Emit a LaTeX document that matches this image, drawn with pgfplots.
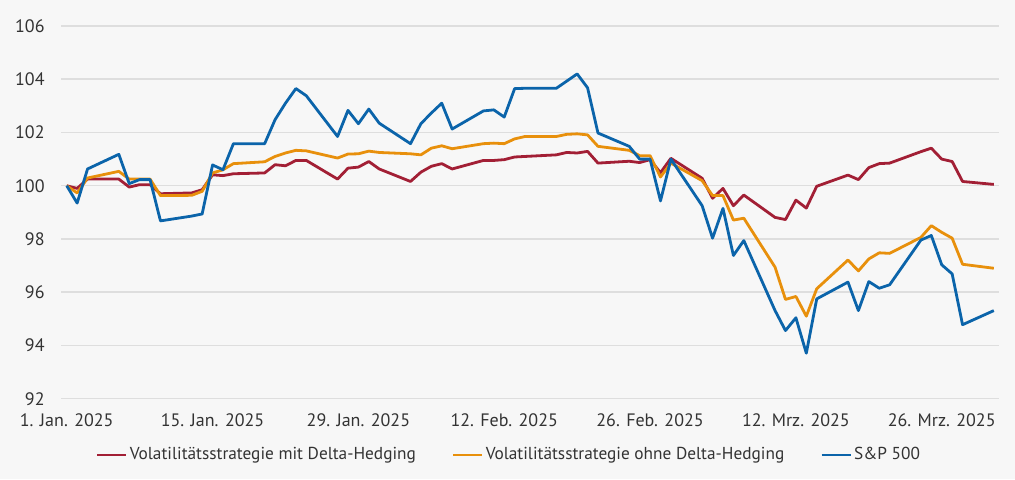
\documentclass[border=0pt]{standalone}
\usepackage{fontspec}
\setmainfont{PT Sans}
\usepackage{pgfplots}
\usepackage{pgfplotstable}
\pgfplotsset{compat=1.18}
\definecolor{bgc}{HTML}{F7F7F7}
\definecolor{gridc}{HTML}{DEDEDE}
\definecolor{txtc}{HTML}{333333}
\definecolor{cred}{HTML}{A21F35}
\definecolor{corange}{HTML}{E8900C}
\definecolor{cblue}{HTML}{0B64AA}
\pgfplotstableread{
d v
0 100
1 99.90
2 100.25
5 100.25
6 99.95
7 100.04
8 100.04
9 99.70
12 99.73
13 99.85
14 100.41
15 100.38
16 100.45
19 100.48
20 100.79
21 100.75
22 100.95
23 100.95
26 100.25
27 100.66
28 100.70
29 100.91
30 100.63
33 100.16
34 100.51
35 100.73
36 100.83
37 100.63
40 100.95
41 100.95
42 100.98
43 101.08
44 101.10
47 101.16
48 101.25
49 101.23
50 101.29
51 100.85
54 100.92
55 100.87
56 100.98
57 100.49
58 101.03
61 100.28
62 99.53
63 99.90
64 99.25
65 99.65
68 98.81
69 98.73
70 99.46
71 99.16
72 99.98
75 100.40
76 100.23
77 100.68
78 100.83
79 100.85
82 101.28
83 101.41
84 101.00
85 100.91
86 100.16
89 100.05
}\tabred
\pgfplotstableread{
d v
0 100
1 99.73
2 100.29
5 100.54
6 100.25
7 100.25
8 100.25
9 99.63
12 99.64
13 99.79
14 100.48
15 100.60
16 100.83
19 100.90
20 101.10
21 101.23
22 101.33
23 101.31
26 101.04
27 101.19
28 101.20
29 101.30
30 101.25
33 101.20
34 101.16
35 101.41
36 101.50
37 101.39
40 101.58
41 101.60
42 101.58
43 101.76
44 101.85
47 101.85
48 101.93
49 101.95
50 101.91
51 101.48
54 101.33
55 101.13
56 101.13
57 100.33
58 100.85
61 100.19
62 99.63
63 99.63
64 98.71
65 98.78
68 96.94
69 95.73
70 95.84
71 95.10
72 96.13
75 97.21
76 96.80
77 97.25
78 97.48
79 97.46
82 98.06
83 98.50
84 98.25
85 98.03
86 97.05
89 96.90
}\taborange
\pgfplotstableread{
d v
0 100
1 99.35
2 100.63
5 101.18
6 100.08
7 100.23
8 100.23
9 98.68
12 98.86
13 98.94
14 100.78
15 100.60
16 101.58
19 101.58
20 102.48
21 103.10
22 103.65
23 103.38
26 101.85
27 102.83
28 102.33
29 102.88
30 102.35
33 101.58
34 102.33
35 102.73
36 103.10
37 102.13
40 102.81
41 102.85
42 102.58
43 103.65
44 103.66
47 103.66
49 104.20
50 103.68
51 101.98
54 101.48
55 101.00
56 101.00
57 99.43
58 101.00
61 99.25
62 98.03
63 99.15
64 97.38
65 97.94
68 95.31
69 94.56
70 95.04
71 93.71
72 95.75
75 96.38
76 95.31
77 96.40
78 96.15
79 96.28
82 97.96
83 98.13
84 97.03
85 96.69
86 94.78
89 95.31
}\tabblue
\begin{document}
\fontsize{9pt}{11pt}\selectfont
\begin{tikzpicture}
\path[use as bounding box, fill=bgc] (-30.5pt,-40.15pt) rectangle (477pt,199.35pt);
\begin{axis}[
  at={(0pt,0pt)}, anchor=south west,
  scale only axis, width=469pt, height=186.35pt,
  xmin=-0.55, xmax=89.5, ymin=92, ymax=106,
  ytick={92,94,...,106},
  xtick={0,14,28,42,56,70,84},
  xticklabels={1. Jan. 2025,15. Jan. 2025,29. Jan. 2025,12. Feb. 2025,26. Feb. 2025,12. Mrz. 2025,26. Mrz. 2025},
  axis line style={draw=none},
  tick style={draw=none},
  major tick length=0pt,
  ymajorgrids,
  grid style={gridc, line width=0.75pt},
  tick label style={text=txtc, font=\fontsize{9pt}{11pt}\selectfont},
  yticklabel style={xshift=-5pt},
  xticklabel style={yshift=-4.5pt},
  /pgf/number format/assume math mode=true,
  legend columns=3,
  legend style={at={(0.4776,-0.151)}, anchor=center, draw=none, fill=none,
    font=\fontsize{8.65pt}{11pt}\selectfont, text=txtc,
    nodes={inner xsep=1pt, inner ysep=1pt},
    /tikz/every even column/.append style={column sep=17pt}},
  legend image code/.code={\draw[#1] (0pt,0pt) -- (14.5pt,0pt);},
  every axis plot/.append style={line width=1.4pt, line join=round},
]
\addplot[cred] table[x=d,y=v] {\tabred};
\addplot[corange] table[x=d,y=v] {\taborange};
\addplot[cblue] table[x=d,y=v] {\tabblue};
\legend{Volatilitätsstrategie mit Delta-Hedging, Volatilitätsstrategie ohne Delta-Hedging, S\&P 500}
\end{axis}
\end{tikzpicture}
\end{document}
